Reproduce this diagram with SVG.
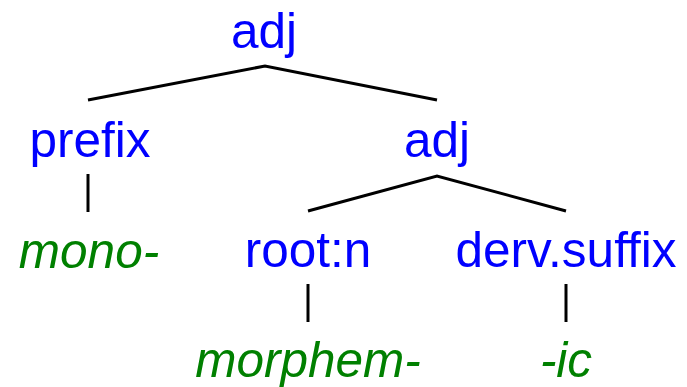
<svg xmlns="http://www.w3.org/2000/svg" width="687" height="387" viewBox="0 0 687 387">
  <style>
    .cat { font-family: "Liberation Sans", Arial, sans-serif; font-size: 49.5px; fill: #0000ff; text-anchor: middle; }
    .form { font-family: "Liberation Sans", Arial, sans-serif; font-size: 49.5px; font-style: italic; fill: #008000; text-anchor: middle; }
    .edge { stroke: #000000; stroke-width: 3; fill: none; stroke-linecap: butt; stroke-linejoin: miter; }
  </style>
  <rect width="687" height="387" fill="#ffffff"/>

  <g id="connectors">
    <polyline class="edge" points="88,100 265,66 437,100"/>
    <line class="edge" x1="88" y1="174" x2="88" y2="212"/>
    <polyline class="edge" points="308,211 437,176 566,211"/>
    <line class="edge" x1="308" y1="284" x2="308" y2="322"/>
    <line class="edge" x1="566" y1="284" x2="566" y2="322"/>
  </g>

  <g id="adj-top"><text class="cat" x="264" y="48">adj</text></g>
  <g id="prefix"><text class="cat" x="90" y="157">prefix</text></g>
  <g id="adj-inner"><text class="cat" x="437" y="157">adj</text></g>
  <g id="root-n"><text class="cat" x="308" y="267">root:n</text></g>
  <g id="derv-suffix"><text class="cat" x="566" y="267">derv.suffix</text></g>
  <g id="mono"><text class="form" x="89" y="268">mono-</text></g>
  <g id="morphem"><text class="form" x="308" y="377">morphem-</text></g>
  <g id="ic"><text class="form" x="566" y="377">-ic</text></g>
</svg>
